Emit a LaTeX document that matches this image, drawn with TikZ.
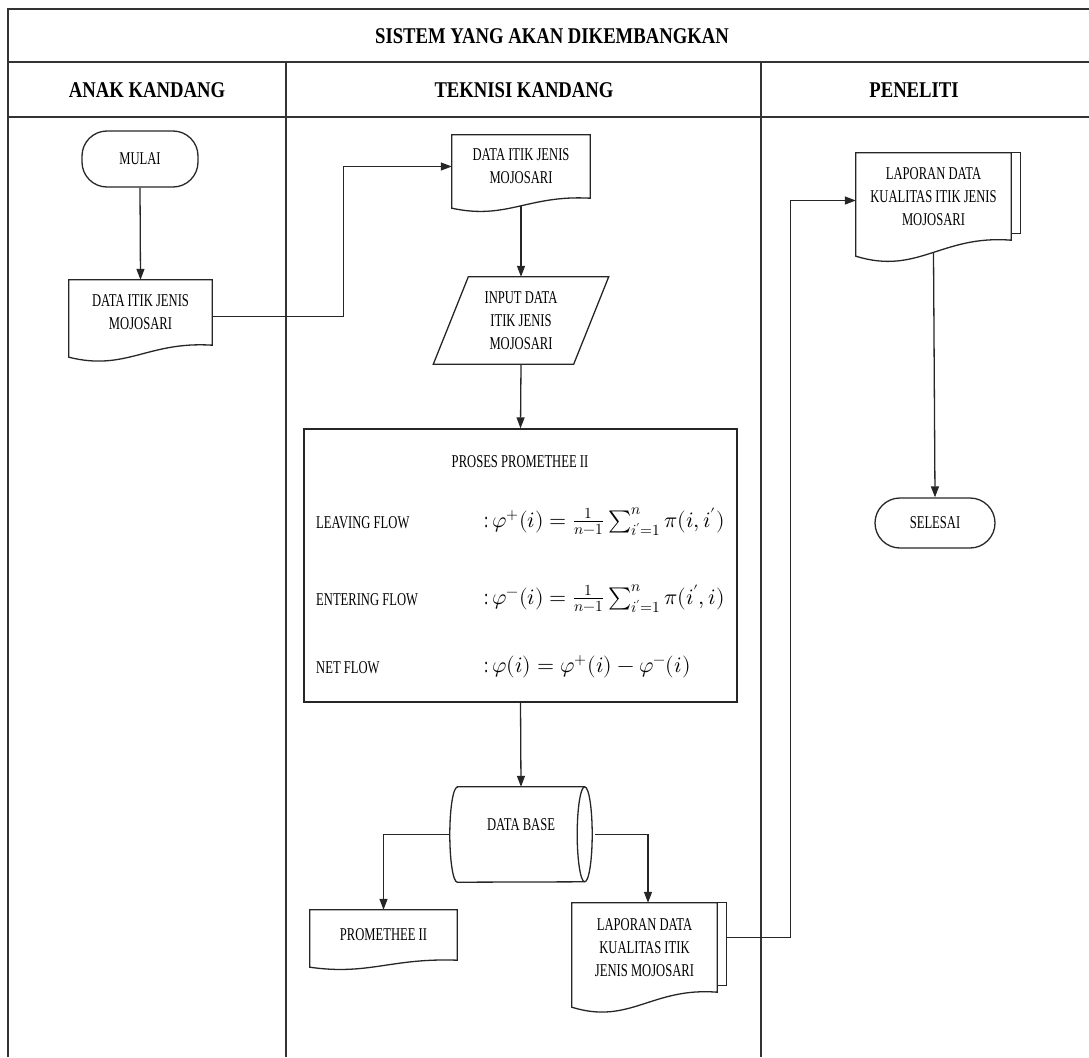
\documentclass[tikz,border=0pt]{standalone}
\usepackage{unicode-math}
\setmathfont{Latin Modern Math}
\usetikzlibrary{arrows.meta,calc}
\newfontfamily\capfont[FakeStretch=0.83]{Liberation Serif}
\newfontfamily\bodyfont[FakeStretch=0.7]{Liberation Serif}

% document symbol with a wavy lower edge; #2 = wave depth in pt
\newcommand\wavedoc[2]{%
  \draw[outline] (#1.north west) -- (#1.north east) -- (#1.south east)
    .. controls ($(#1.south east)!0.45!(#1.south west)+(0pt,0.35*#2pt)$)
           and ($(#1.south west)!0.4!(#1.south east)+(0pt,-2.2*#2pt)$)
    .. ($(#1.south west)+(0pt,-#2pt)$) -- cycle;}
% second sheet behind a document symbol
\newcommand\stackdoc[1]{%
  \draw[outline] (#1.north east) -- ++(9pt,0pt) -- ($(#1.south east)+(9pt,7pt)$) -- ++(-9pt,0pt);}

\tikzset{
  frame/.style={line width=1.7pt, draw=black!80},
  lanehead/.style={font=\capfont\bfseries\fontsize{22.5}{26}\selectfont, inner sep=0pt},
  body/.style={font=\bodyfont\fontsize{18}{23}\selectfont, align=center, inner sep=0pt},
  outline/.style={line width=1.3pt, draw=black!85},
  flow/.style={line width=1.3pt, draw=black!85, -{Triangle[length=11pt,width=8pt]}},
  term/.style={body, outline, draw, rounded corners=25pt},
  formula/.style={font=\fontsize{22}{26}\selectfont, anchor=west, inner sep=0pt},
}

\begin{document}
\begin{tikzpicture}[x=1pt,y=-1pt]
\useasboundingbox (0,0) rectangle (1089,1057);

% swimlane table
\draw[frame] (1089,9) -- (8,9) -- (8,1057);
\draw[frame] (8,62) -- (1089,62);
\draw[frame] (8,117) -- (1089,117);
\draw[frame] (286,62) -- (286,1057);
\draw[frame] (761,62) -- (761,1057);

\node[lanehead] (title) at (552,36) {SISTEM YANG AKAN DIKEMBANGKAN};
\node[lanehead] (laneA) at (147,90) {ANAK KANDANG};
\node[lanehead] (laneB) at (524,90) {TEKNISI KANDANG};
\node[lanehead] (laneC) at (914,90) {PENELITI};

% lane 1
\node[term, minimum width=116pt, minimum height=56pt] (mulai) at (140,159) {MULAI};
\node[body, minimum width=143pt, minimum height=65pt] (doc1) at (140.5,312.5) {DATA ITIK JENIS\\MOJOSARI};
\wavedoc{doc1}{12}

% lane 2
\node[body, minimum width=138pt, minimum height=63pt] (doc2) at (521,166.5) {DATA ITIK JENIS\\MOJOSARI};
\wavedoc{doc2}{10}

\node[body, minimum width=140pt, minimum height=87pt] (input) at (521,320.5) {INPUT DATA\\ITIK JENIS\\MOJOSARI};
\draw[outline] ($(input.north west)+(17.5pt,0pt)$) -- ($(input.north east)+(17.5pt,0pt)$)
  -- ($(input.south east)+(-17.5pt,0pt)$) -- ($(input.south west)+(-17.5pt,0pt)$) -- cycle;

\node[outline, draw, minimum width=433pt, minimum height=273pt, inner sep=0pt] (proc) at (520.5,565.5) {};
\node[body] (proctitle) at (520,462) {PROSES PROMETHEE II};
\node[body, anchor=west] (lvlbl) at (316,523) {LEAVING FLOW};
\node[body, anchor=west] (enlbl) at (316,600) {ENTERING FLOW};
\node[body, anchor=west] (ntlbl) at (316,668) {NET FLOW};
\node[formula] (lvf) at (484,522) {{\bodyfont :}$\,\varphi^{+}(i)=\frac{1}{n-1}\sum\nolimits_{i'=1}^{n}\pi(i,i')$};
\node[formula] (enf) at (484,599) {{\bodyfont :}$\,\varphi^{-}(i)=\frac{1}{n-1}\sum\nolimits_{i'=1}^{n}\pi(i',i)$};
\node[formula] (ntf) at (484,667) {{\bodyfont :}$\,\varphi(i)=\varphi^{+}(i)-\varphi^{-}(i)$};

% database cylinder
\node[minimum width=142pt, minimum height=95pt, inner sep=0pt] (db) at (521,834.5) {};
\draw[outline] let \p1=(db.north west), \p2=(db.south east) in
  ({\x1+7.5pt},\y1) -- ({\x2-7.5pt},\y1)
  arc[start angle=90, end angle=-90, x radius=7.5pt, y radius=47.5pt]
  -- ({\x1+7.5pt},\y2)
  arc[start angle=270, end angle=90, x radius=7.5pt, y radius=47.5pt] -- cycle;
\draw[outline] let \p1=(db.north east) in ({\x1-7.5pt},\y1)
  arc[start angle=90, end angle=270, x radius=7.5pt, y radius=47.5pt];
\node[body] (dbtext) at (521,825) {DATA BASE};

\node[body, minimum width=147pt, minimum height=50pt] (prom) at (383.5,935) {PROMETHEE II};
\wavedoc{prom}{7}

\node[body, minimum width=145pt, minimum height=89pt] (lap) at (644.5,947.5) {LAPORAN DATA\\KUALITAS ITIK\\JENIS MOJOSARI};
\wavedoc{lap}{15}
\stackdoc{lap}

% lane 3
\node[body, minimum width=155pt, minimum height=87pt] (lap2) at (933.5,196.5) {LAPORAN DATA\\KUALITAS ITIK JENIS\\MOJOSARI};
\wavedoc{lap2}{16}
\stackdoc{lap2}

\node[term, minimum width=120pt, minimum height=50pt] (selesai) at (935,523) {SELESAI};

% connectors
\draw[flow] (mulai.south) -- (doc1.north);
\draw[flow] ([yshift=-4pt]doc1.east) -- ++(131pt,0pt) |- (doc2.west);
\draw[flow] ([yshift=-8pt]doc2.south) -- (input.north);
\draw[flow] (input.south) -- (proc.north);
\draw[flow] (proc.south) -- (db.north);
\draw[flow] (db.west) -| (prom.north);
\draw[flow] ([xshift=3pt]db.east) -| ([xshift=3.5pt]lap.north);
\draw[flow] ([xshift=9pt,yshift=10pt]lap.east) -- ++(64pt,0pt) |- ([yshift=-4pt]lap2.west);
\draw[flow] ([yshift=-13pt]lap2.south) -- (selesai.north);
\end{tikzpicture}
\end{document}
